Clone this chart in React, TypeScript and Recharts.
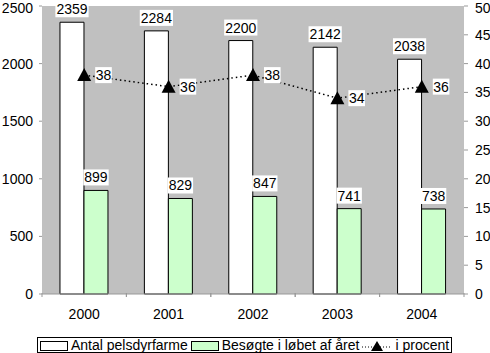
import React from "react";
import {
  ComposedChart,
  Bar,
  Line,
  XAxis,
  YAxis,
  CartesianGrid,
  Legend,
  LabelList,
} from "recharts";

const years = ["2000", "2001", "2002", "2003", "2004"];
const antal = [2359, 2284, 2200, 2142, 2038];
const besogte = [899, 829, 847, 741, 738];
const procent = [38, 36, 38, 34, 36];

const leftTicks = [0, 500, 1000, 1500, 2000, 2500];
const rightTicks = [0, 5, 10, 15, 20, 25, 30, 35, 40, 45, 50];

const FONT = "'Liberation Sans', Arial, sans-serif";

const data = years.map((year, i) => ({
  year,
  antal: antal[i],
  besogte: besogte[i],
  procent: procent[i],
}));

const textW = (v: any) => String(v).length * 7.8;

const BarValue = (props: any) => {
  const { x, y, width, value } = props;
  const w = textW(value) + 2;
  const cx = x + width / 2;
  return (
    <g>
      <rect x={cx - w / 2} y={y - 21} width={w} height={16} fill="#fff" />
      <text x={cx} y={y - 8} textAnchor="middle" fontSize={14} fontFamily={FONT} fill="#000">
        {value}
      </text>
    </g>
  );
};

const LineValue = (props: any) => {
  const { x, y, value } = props;
  const w = textW(value) + 1;
  return (
    <g>
      <rect x={x + 11} y={y - 8} width={w} height={16} fill="#fff" />
      <text x={x + 11.5} y={y + 5} fontSize={14} fontFamily={FONT} fill="#000">
        {value}
      </text>
    </g>
  );
};

const Triangle = (props: any) => {
  const { cx, cy } = props;
  if (cx == null || cy == null) return null;
  return <polygon points={`${cx},${cy - 7} ${cx + 7},${cy + 6} ${cx - 7},${cy + 6}`} fill="#000" />;
};

// year label plus tick marks on the category boundaries
const YearTick = (props: any) => {
  const { x, y, payload } = props;
  const half = payload && payload.offset ? payload.offset : 42.2;
  return (
    <g>
      <line x1={x - half} x2={x - half} y1={293} y2={297} stroke="#999" />
      <line x1={x + half} x2={x + half} y1={293} y2={297} stroke="#999" />
      <text x={x} y={y + 17} textAnchor="middle" fontSize={14} fontFamily={FONT} fill="#000">
        {payload.value}
      </text>
    </g>
  );
};

const Swatch = ({ fill }: { fill: string }) => (
  <span
    style={{
      display: "inline-block",
      width: 26,
      height: 8,
      background: fill,
      border: "1px solid #000",
      marginRight: 3,
      verticalAlign: "middle",
    }}
  />
);

const LegendBox = () => (
  <div
    style={{
      border: "1px solid #000",
      fontFamily: FONT,
      fontSize: 14,
      lineHeight: "14px",
      padding: "0 2px",
      whiteSpace: "nowrap",
      display: "inline-block",
      background: "#fff",
    }}
  >
    <Swatch fill="#fff" />
    <span style={{ marginRight: 3 }}>Antal pelsdyrfarme</span>
    <Swatch fill="#ccffcc" />
    <span style={{ marginRight: 3 }}>Besøgte i løbet af året</span>
    <svg width={30} height={12} style={{ verticalAlign: "middle", marginRight: 3 }}>
      <line x1={0} x2={30} y1={7} y2={7} stroke="#000" strokeDasharray="1 2" />
      <polygon points="15,1 21,11 9,11" fill="#000" />
    </svg>
    <span>i procent</span>
  </div>
);

export default function App() {
  return (
    <div style={{ width: 490, height: 353, position: "relative" }}>
      <style>{"body{margin:0}"}</style>
      <ComposedChart
        width={490}
        height={353}
        data={data}
        margin={{ top: 6, right: 0, left: 0, bottom: 0 }}
        barGap={0}
        barCategoryGap="21.3%"
      >
        <CartesianGrid fill="#c0c0c0" horizontal={false} vertical={false} />
        <XAxis
          dataKey="year"
          height={42}
          tick={<YearTick />}
          tickLine={false}
          axisLine={{ stroke: "#999" }}
        />
        <YAxis
          yAxisId="left"
          domain={[0, 2500]}
          ticks={leftTicks}
          width={42}
          axisLine={false}
          tickLine={{ stroke: "#999" }}
          tickSize={3}
          tickMargin={6}
          tick={{ fontSize: 14, fontFamily: FONT, fill: "#000" }}
        />
        <YAxis
          yAxisId="right"
          orientation="right"
          domain={[0, 50]}
          ticks={rightTicks}
          width={26}
          axisLine={false}
          tickLine={{ stroke: "#999" }}
          tickSize={4}
          tickMargin={7}
          tick={{ fontSize: 14, fontFamily: FONT, fill: "#000" }}
        />
        <Bar yAxisId="left" dataKey="antal" name="Antal pelsdyrfarme" fill="#fff" stroke="#000" isAnimationActive={false}>
          <LabelList dataKey="antal" content={<BarValue />} />
        </Bar>
        <Bar yAxisId="left" dataKey="besogte" name="Besøgte i løbet af året" fill="#ccffcc" stroke="#000" isAnimationActive={false}>
          <LabelList dataKey="besogte" content={<BarValue />} />
        </Bar>
        <Line
          yAxisId="right"
          dataKey="procent"
          name="i procent"
          stroke="#000"
          strokeWidth={1.5}
          strokeDasharray="1.5 3"
          dot={<Triangle />}
          activeDot={false}
          isAnimationActive={false}
        >
          <LabelList dataKey="procent" content={<LineValue />} />
        </Line>
        <Legend
          verticalAlign="bottom"
          height={18}
          content={<LegendBox />}
          wrapperStyle={{ left: 37, width: 414, bottom: 0, height: 17 }}
        />
      </ComposedChart>
    </div>
  );
}
